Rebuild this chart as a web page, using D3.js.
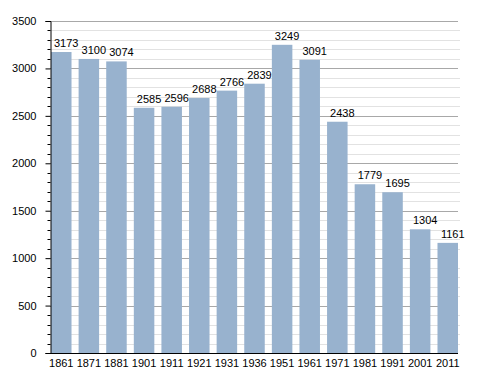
<!DOCTYPE html>
<html><head><meta charset="utf-8">
<script src="https://cdn.jsdelivr.net/npm/d3@7"></script>
<style>body{margin:0;background:#fff}svg{display:block}text{font-family:"Liberation Sans",Arial,sans-serif;font-size:11px;fill:#000}</style>
</head><body>
<script>
const years = ["1861","1871","1881","1901","1911","1921","1931","1936","1951","1961","1971","1981","1991","2001","2011"];
const population = [3173,3100,3074,2585,2596,2688,2766,2839,3249,3091,2438,1779,1695,1304,1161];
const yMajorTicks = [0,500,1000,1500,2000,2500,3000,3500];

(function(){
const W=488,H=373, mLeft=50, mRight=458, mTop=21, mBottom=353;
const svg=d3.select("body").append("svg").attr("width",W).attr("height",H);
const x=d3.scaleBand().domain(years).range([mLeft+1,mRight]).paddingInner(0.257).paddingOuter(0);
const y=d3.scaleLinear().domain([0,3500]).range([mBottom,mTop]);
const minor=d3.range(0,3501,100).filter(v=>v%500!==0);

svg.append("g").selectAll("line").data(minor).join("line")
 .attr("x1",mLeft).attr("x2",mRight+2).attr("y1",d=>Math.round(y(d))+0.5).attr("y2",d=>Math.round(y(d))+0.5)
 .attr("stroke","#e2e2e2");
svg.append("g").selectAll("line").data(yMajorTicks.filter(d=>d>0)).join("line")
 .attr("x1",mLeft).attr("x2",mRight).attr("y1",d=>Math.round(y(d))+0.5).attr("y2",d=>Math.round(y(d))+0.5)
 .attr("stroke","#a8a8a8");

svg.append("g").selectAll("rect").data(population).join("rect")
 .attr("x",(d,i)=>x(years[i])).attr("width",x.bandwidth())
 .attr("y",d=>y(d)).attr("height",d=>y(0)-y(d)).attr("fill","#98b2ce");

svg.append("g").selectAll("text").data(population).join("text")
 .attr("x",(d,i)=>x(years[i])+x.bandwidth()/2+5).attr("y",d=>y(d)-5)
 .attr("text-anchor","middle").text(d=>d);

const ya=svg.append("g").attr("transform",`translate(${mLeft+0.5},0)`);
ya.call(d3.axisLeft(y).tickValues(yMajorTicks).tickSize(5).tickPadding(9).tickFormat(d3.format("d")));
ya.select(".domain").attr("stroke","#000");
ya.selectAll("text").style("font-size","11px").attr("font-family","Liberation Sans, Arial, sans-serif");
ya.selectAll(".minor").data(minor).join("line").attr("class","minor")
 .attr("x1",-3).attr("x2",0).attr("y1",d=>Math.round(y(d))+0.5).attr("y2",d=>Math.round(y(d))+0.5).attr("stroke","#000");

const xa=svg.append("g").attr("transform",`translate(0,${mBottom+0.5})`);
xa.call(d3.axisBottom(x).tickSize(0).tickPadding(6));
xa.select(".domain").attr("stroke","#000").attr("d",`M${mLeft},0H${mRight}`);
xa.selectAll("text").style("font-size","11px").attr("font-family","Liberation Sans, Arial, sans-serif");
})();
</script>
</body></html>
